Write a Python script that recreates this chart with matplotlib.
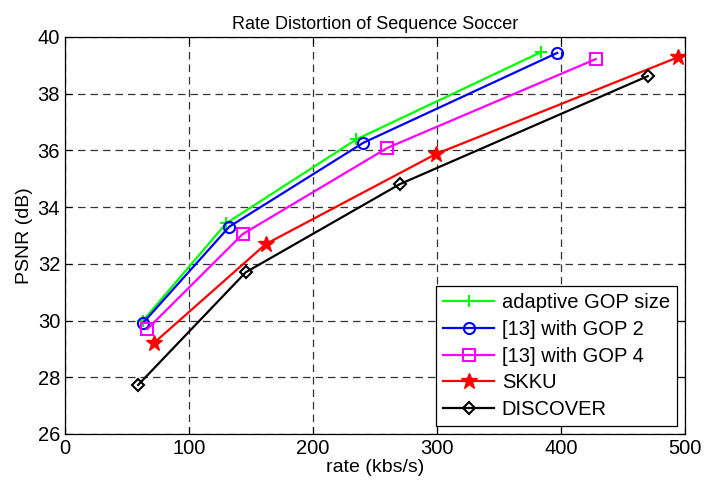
import matplotlib.pyplot as plt

plt.rcParams['font.family'] = ['Liberation Sans', 'DejaVu Sans']

# rate (kbs/s) and PSNR (dB)
rate_adaptive = [63, 130, 235, 384]
psnr_adaptive = [30.0, 33.43, 36.39, 39.47]
rate_gop2 = [63, 132.5, 240.6, 397]
psnr_gop2 = [29.92, 33.31, 36.27, 39.44]
rate_gop4 = [66.4, 143.3, 260, 428]
psnr_gop4 = [29.70, 33.05, 36.09, 39.22]
rate_skku = [72, 162, 299, 494]
psnr_skku = [29.22, 32.70, 35.87, 39.28]
rate_discover = [59, 145.7, 270, 470]
psnr_discover = [27.73, 31.70, 34.81, 38.62]

fig = plt.figure(figsize=(7.05, 4.88), dpi=100)
ax = fig.add_axes([0.0922, 0.1107, 0.8794, 0.8135])

ax.plot(rate_adaptive, psnr_adaptive, color='#00ff00', marker='+', ms=8, mew=1.5, lw=1.6,
        label='adaptive GOP size')
ax.plot(rate_gop2, psnr_gop2, color='#0000ff', marker='o', ms=8, mfc='none', mew=1.5, lw=1.6,
        label='[13] with GOP 2')
ax.plot(rate_gop4, psnr_gop4, color='#ff00ff', marker='s', ms=8, mfc='none', mew=1.5, lw=1.6,
        label='[13] with GOP 4')
ax.plot(rate_skku, psnr_skku, color='#ff0000', marker='*', ms=12, lw=1.6,
        label='SKKU')
ax.plot(rate_discover, psnr_discover, color='black', marker='D', ms=6, mfc='none', mew=1.5, lw=1.6,
        label='DISCOVER')

ax.set_xlim(0, 500)
ax.set_ylim(26, 40)
ax.set_xticks(range(0, 501, 100))
ax.set_yticks(range(26, 41, 2))
ax.grid(True, color='#333333', linestyle=(0, (6, 4)), linewidth=0.9)
ax.tick_params(direction='in', top=True, right=True, labelsize=14.5, length=5)
for s in ax.spines.values():
    s.set_linewidth(0.9)

ax.set_title('Rate Distortion of Sequence Soccer', fontsize=13)
ax.set_xlabel('rate (kbs/s)', fontsize=14, labelpad=1)
ax.set_ylabel('PSNR (dB)', fontsize=14, labelpad=3)

leg = ax.legend(loc='lower right', fontsize=14.5, fancybox=False, framealpha=1,
                edgecolor='black', borderaxespad=0.4, handlelength=2.5,
                labelspacing=0.38, borderpad=0.35, handletextpad=0.4)
leg.get_frame().set_linewidth(0.9)

fig.savefig('out.png', dpi=100)
